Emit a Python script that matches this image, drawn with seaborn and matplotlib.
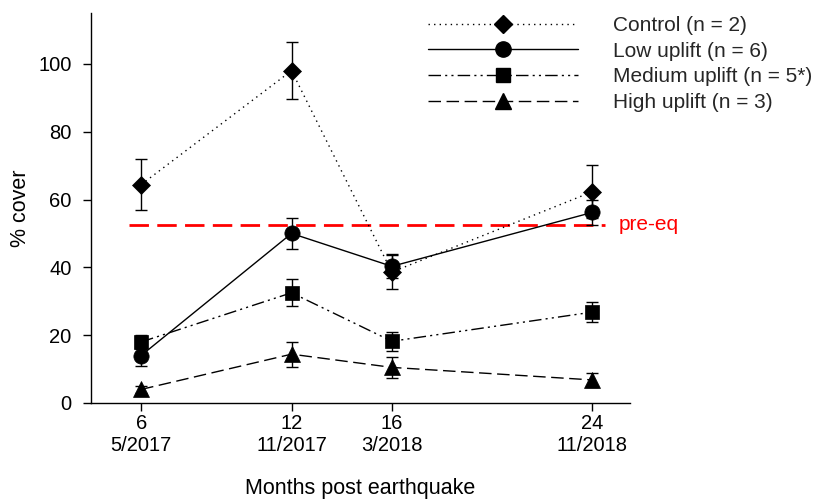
import matplotlib
matplotlib.use("Agg")
import matplotlib.pyplot as plt
import seaborn as sns
from matplotlib.lines import Line2D

# Sampling times (months after the earthquake) and the matching survey dates
months = [6, 12, 16, 24]
dates = ["5/2017", "11/2017", "3/2018", "11/2018"]

series_labels = ["Control (n = 2)", "Low uplift (n = 6)",
                 "Medium uplift (n = 5*)", "High uplift (n = 3)"]

# Mean % cover and standard error for each treatment
control_mean = [64.4, 98.0, 38.6, 62.3]
control_se = [7.5, 8.5, 5.0, 7.8]
low_mean = [14.0, 50.0, 40.3, 56.2]
low_se = [3.0, 4.6, 3.5, 3.6]
medium_mean = [18.0, 32.5, 18.2, 26.8]
medium_se = [2.0, 4.0, 2.8, 3.0]
high_mean = [4.0, 14.4, 10.5, 6.8]
high_se = [1.0, 3.7, 3.2, 2.0]

# Pre-earthquake reference cover
pre_eq = 52.5

sns.set_theme(style="ticks")
plt.rcParams["font.family"] = ["Liberation Sans", "DejaVu Sans"]

fig = plt.figure(figsize=(8.15, 5), dpi=100)
ax = fig.add_axes([91 / 815, 97 / 500, 539 / 815, 390 / 500])

styles = [
    dict(marker="D", markersize=9.5, linestyle=(0, (1, 3))),
    dict(marker="o", markersize=11, linestyle="-"),
    dict(marker="s", markersize=9.5, linestyle=(0, (9, 3, 1.5, 3, 1.5, 3))),
    dict(marker="^", markersize=11, linestyle=(0, (9, 4))),
]
means = [control_mean, low_mean, medium_mean, high_mean]
errors = [control_se, low_se, medium_se, high_se]

for mean, se, st in zip(means, errors, styles):
    ax.errorbar(months, mean, yerr=se, fmt="none", ecolor="black",
                elinewidth=1, capsize=4.3, capthick=1, zorder=2)
    sns.lineplot(x=months, y=mean, ax=ax, color="black", linewidth=1,
                 markeredgecolor="black", markerfacecolor="black",
                 markeredgewidth=0.5, legend=False, zorder=3, **st)

# Pre-earthquake reference line
sns.lineplot(x=[5.5, 24.5], y=[pre_eq, pre_eq], ax=ax, color="#ff0000",
             linewidth=2, linestyle=(0, (7, 3)), legend=False, zorder=1)
ax.text(25.05, pre_eq, "pre-eq", color="#ff0000", fontsize=15,
        va="center", ha="left")

ax.set_xlim(4, 25.5)
ax.set_ylim(0, 115)
ax.set_xticks(months)
ax.set_xticklabels([f"{m}\n{d}" for m, d in zip(months, dates)])
ax.set_yticks([0, 20, 40, 60, 80, 100])
ax.tick_params(axis="both", direction="out", length=6, width=1,
               color="black", labelsize=14.5, labelcolor="black")
ax.tick_params(axis="y", pad=8)
ax.tick_params(axis="x", pad=2)
for side in ["left", "bottom"]:
    ax.spines[side].set_color("black")
    ax.spines[side].set_linewidth(1)
sns.despine(ax=ax)

ax.set_xlabel("Months post earthquake", fontsize=15.5, color="black")
ax.set_ylabel("% cover", fontsize=15.5, color="black")
ax.xaxis.set_label_coords(0.5, -0.218)
ax.xaxis.label.set_verticalalignment("center")
ax.yaxis.set_label_coords(-0.1317, 0.5)
ax.yaxis.label.set_verticalalignment("center")

handles = [Line2D([], [], color="black", linewidth=1, markeredgecolor="black",
                  markerfacecolor="black", **st) for st in styles]
ax.legend(handles, series_labels, loc="upper left",
          bbox_to_anchor=(428 / 815, 1 - 16 / 500), bbox_transform=fig.transFigure,
          frameon=False, fontsize=15, handlelength=7.2, handletextpad=1.7,
          labelspacing=0.32, borderpad=0, borderaxespad=0)

fig.savefig("out.png", dpi=100)
